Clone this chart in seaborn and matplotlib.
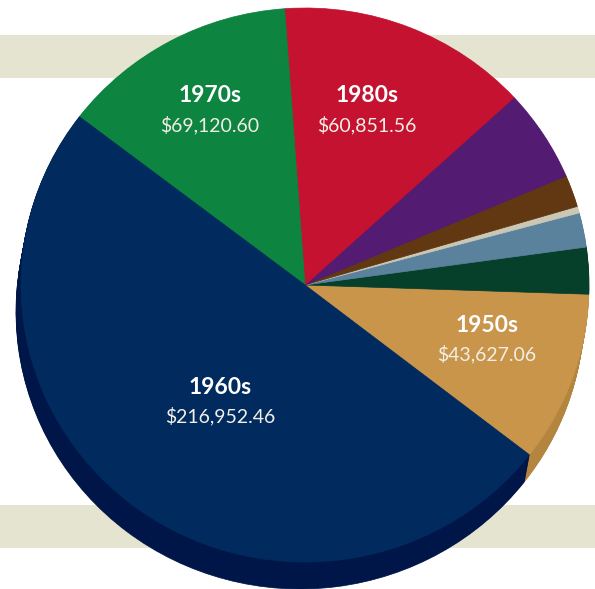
import matplotlib
matplotlib.use("Agg")
import matplotlib.pyplot as plt
import seaborn as sns

sns.set_theme(style="white")
plt.rcParams['font.family'] = ['Lato', 'DejaVu Sans']

# slice shares (counter-clockwise starting at the 1950s)
decades = ['1950s', 'other_a', 'other_b', 'other_c', 'other_d', 'other_e', '1980s', '1970s', '1960s']
shares  = [9.97, 2.72, 2.00, 0.39, 1.86, 5.39, 14.31, 13.47, 49.89]
colors  = ['#C8954B', '#06402B', '#5A829C', '#CBC7B5', '#623812', '#531B72', '#C41230', '#0D843F', '#012B5E']
shades  = ['#B3853F', '#04301F', '#476A80', '#A9A592', '#4A290C', '#3E1256', '#9A0E25', '#0A6632', '#001648']

# labelled slices and their amounts
label_names  = ['1970s', '1980s', '1950s', '1960s']
label_values = ['$69,120.60', '$60,851.56', '$43,627.06', '$216,952.46']
label_pos    = [(210, 96), (367, 96), (487, 325), (220, 387)]  # px, top of label block

W, H = 595, 589
cx, cy, rx, ry = 305, 285, 284, 277

fig = plt.figure(figsize=(W / 100, H / 100), dpi=100)
ax = fig.add_axes([0, 0, 1, 1])

def to_data(px, py):
    return (px - cx) / rx, (cy - py) / ry

def draw_pie(center, cols, z):
    wedges, _ = ax.pie(shares, colors=cols, startangle=-37.8, counterclock=True,
                       center=center, radius=1, frame=True)
    for w, c in zip(wedges, cols):
        w.set_edgecolor(c)
        w.set_linewidth(0.5)
        w.set_zorder(z)
    return wedges

# background bands
for top, bot in [(35, 78), (505, 548)]:
    ax.axhspan(to_data(0, bot)[1], to_data(0, top)[1], color='#E5E4D1', zorder=0, lw=0)

# extruded side of the pie
steps = 30
for k in range(steps, 0, -1):
    draw_pie(to_data(cx - 5 * k / steps, cy + 27 * k / steps), shades, 1)

# top face
draw_pie((0, 0), colors, 2)

for name, val, (px, py) in zip(label_names, label_values, label_pos):
    x, y = to_data(px, py)
    ax.text(x, y, name, color='white', fontsize=16.5, fontweight='bold',
            ha='center', va='center', zorder=5)
    x2, y2 = to_data(px, py + 29)
    ax.text(x2, y2, val, color='#F2EFE6', fontsize=14,
            ha='center', va='center', zorder=5)

ax.set_xlim(-cx / rx, (W - cx) / rx)
ax.set_ylim(-(H - cy) / ry, cy / ry)
ax.set_aspect('auto')
ax.axis('off')

fig.savefig('out.png', dpi=100)
